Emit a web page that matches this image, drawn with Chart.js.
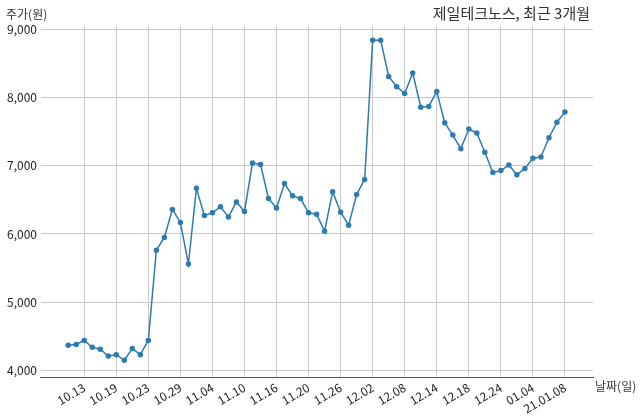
<!DOCTYPE html>
<html>
<head>
<meta charset="utf-8">
<script src="https://cdn.jsdelivr.net/npm/chart.js@4"></script>
<style>
    body { margin: 0; background: #fff; }
    #wrap { width: 640px; height: 419px; }
</style>
</head>
<body>
<div id="wrap"><canvas id="chart"></canvas></div>
<script>
"use strict";

const prices = [
    4370, 4380, 4440, 4340, 4310, 4210, 4230, 4150, 4320, 4230,
    4440, 5760, 5950, 6360, 6170, 5560, 6670, 6270, 6310, 6400,
    6250, 6470, 6330, 7040, 7020, 6520, 6380, 6740, 6560, 6520,
    6310, 6290, 6040, 6620, 6320, 6130, 6580, 6800, 8840, 8840,
    8310, 8160, 8060, 8360, 7860, 7870, 8090, 7630, 7450, 7250,
    7540, 7480, 7200, 6900, 6930, 7010, 6870, 6960, 7110, 7130,
    7410, 7640, 7790
];
const tickIndexes = [2, 6, 10, 14, 18, 22, 26, 30, 34, 38, 42, 46, 50, 54, 58, 62];
const tickLabels = ["10.13", "10.19", "10.23", "10.29", "11.04", "11.10", "11.16", "11.20",
    "11.26", "12.02", "12.08", "12.14", "12.18", "12.24", "01.04", "21.01.08"];
const yTicks = [4000, 5000, 6000, 7000, 8000, 9000];

const font = "'Noto Sans CJK KR', 'Noto Sans', sans-serif";

const textPlugin = {
    id: "texts",
    afterDraw: (chart) => {
        const { ctx, chartArea } = chart;
        ctx.save();
        ctx.fillStyle = "#333";
        ctx.font = `12px ${font}`;
        ctx.textBaseline = "middle";
        ctx.textAlign = "left";
        ctx.fillText("주가(원)", 6, 14);
        ctx.fillText("날짜(일)", chartArea.right + 2, 386);
        ctx.font = `15px ${font}`;
        ctx.textAlign = "right";
        ctx.fillText("제일테크노스, 최근 3개월", 590, 13);
        ctx.restore();
    }
};

new Chart(document.getElementById("chart"), {
    type: "line",
    data: {
        datasets: [{
            data: prices.map((p, i) => ({ x: i, y: p })),
            borderColor: "#2e7bb0",
            backgroundColor: "#2e7bb0",
            borderWidth: 1.5,
            pointRadius: 2,
            pointHoverRadius: 2,
            tension: 0
        }]
    },
    options: {
        responsive: true,
        maintainAspectRatio: false,
        animation: false,
        layout: { padding: { top: 26, right: 47, left: 3, bottom: 0 } },
        plugins: { legend: { display: false }, tooltip: { enabled: false } },
        scales: {
            x: {
                type: "linear",
                min: -3.4,
                max: 65.5,
                afterBuildTicks: (axis) => { axis.ticks = tickIndexes.map((v) => ({ value: v })); },
                ticks: {
                    autoSkip: false,
                    maxRotation: 30,
                    minRotation: 30,
                    color: "#222",
                    font: { family: font, size: 12 },
                    callback: (v) => tickLabels[tickIndexes.indexOf(v)]
                },
                grid: { color: "#c8c8c8", drawTicks: false },
                border: { color: "#555" }
            },
            y: {
                min: 3900,
                max: 9050,
                afterBuildTicks: (axis) => { axis.ticks = yTicks.map((v) => ({ value: v })); },
                ticks: {
                    color: "#222",
                    padding: 4,
                    font: { family: font, size: 12 },
                    callback: (v) => v.toLocaleString("en-US")
                },
                grid: { color: "#c8c8c8", drawTicks: false },
                border: { display: false }
            }
        }
    },
    plugins: [textPlugin]
});
</script>
</body>
</html>
